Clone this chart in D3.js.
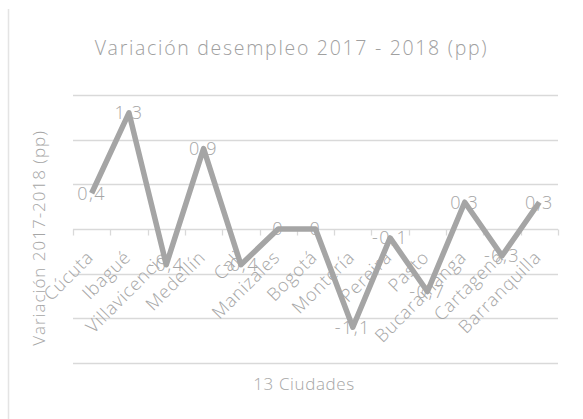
<!DOCTYPE html>
<html>
  <head>
    <meta charset="utf-8">
    <title>Variación desempleo</title>
    <script src="https://d3js.org/d3.v7.min.js"></script>
    <style>
      body { margin: 0; background: #fff; }
      svg { display: block; font-family: "Open Sans", sans-serif; font-weight: 300; }
    </style>
  </head>
  <body>
    <div id="chart"></div>
  </body>
</html>
<script>
  const width = 583, height = 419;

  // data
  const ciudades = ["Cúcuta", "Ibagué", "Villavicencio", "Medellín", "Cali", "Manizales", "Bogotá",
    "Montería", "Pereira", "Pasto", "Bucaramanga", "Cartagena", "Barranquilla"];
  const variacion = [0.4, 1.3, -0.4, 0.9, -0.4, 0, 0, -1.1, -0.1, -0.7, 0.3, -0.3, 0.3];
  const gridValues = [1.5, 1, 0.5, 0, -0.5, -1, -1.5];

  const margin = {left: 73, right: 25, top: 95, bottom: 56};

  const svg = d3.select("#chart").append("svg")
    .attr("width", width)
    .attr("height", height);

  const x = d3.scaleBand()
    .domain(ciudades)
    .range([margin.left, width - margin.right]);

  const y = d3.scaleLinear()
    .domain([-1.5, 1.5])
    .range([height - margin.bottom, margin.top]);

  // chart border (only left edge shows)
  svg.append("line")
    .attr("x1", 8.5).attr("x2", 8.5)
    .attr("y1", 9).attr("y2", height)
    .attr("stroke", "#e4e4e4")
    .attr("stroke-width", 1.5);

  // gridlines
  svg.append("g").selectAll("line")
    .data(gridValues)
    .join("line")
      .attr("x1", margin.left)
      .attr("x2", width - margin.right)
      .attr("y1", d => Math.round(y(d)) + 0.5)
      .attr("y2", d => Math.round(y(d)) + 0.5)
      .attr("stroke", "#d9d9d9")
      .attr("stroke-width", 1.3);

  // category axis on zero
  const y0 = Math.round(y(0)) + 0.5;
  const ticks = ciudades.map(c => x(c)).concat([width - margin.right]);
  svg.append("g").selectAll("line")
    .data(ticks)
    .join("line")
      .attr("x1", d => Math.round(d) + 0.5)
      .attr("x2", d => Math.round(d) + 0.5)
      .attr("y1", y0)
      .attr("y2", y0 + 6)
      .attr("stroke", "#d9d9d9")
      .attr("stroke-width", 1.3);

  svg.append("g").selectAll("text")
    .data(ciudades)
    .join("text")
      .attr("transform", d => "translate(" + (x(d) + x.bandwidth() / 2 - 6) + "," + (y0 + 20) + ") rotate(-45)")
      .attr("text-anchor", "end")
      .attr("dy", "0.7em")
      .attr("fill", "#a6a6a6")
      .attr("font-size", 18)
      .attr("letter-spacing", 0.8)
      .text(d => d);

  // line
  const line = d3.line()
    .x((d, i) => x(ciudades[i]) + x.bandwidth() / 2)
    .y(d => y(d));

  svg.append("path")
    .datum(variacion)
    .attr("d", line)
    .attr("fill", "none")
    .attr("stroke", "#a5a5a5")
    .attr("stroke-width", 5.5)
    .attr("stroke-linejoin", "round");

  // data labels
  svg.append("g").selectAll("text")
    .data(variacion)
    .join("text")
      .attr("x", (d, i) => x(ciudades[i]) + x.bandwidth() / 2)
      .attr("y", d => y(d))
      .attr("dy", "0.35em")
      .attr("text-anchor", "middle")
      .attr("fill", "#a6a6a6")
      .attr("font-size", 18)
      .attr("letter-spacing", 1.5)
      .text(d => String(d).replace(".", ","));

  // titles
  svg.append("text")
    .attr("x", width / 2)
    .attr("y", 55)
    .attr("text-anchor", "middle")
    .attr("fill", "#a0a0a0")
    .attr("font-size", 19.5)
    .attr("letter-spacing", 1.7)
    .text("Variación desempleo 2017 - 2018 (pp)");

  svg.append("text")
    .attr("transform", "translate(45,238) rotate(-90)")
    .attr("text-anchor", "middle")
    .attr("fill", "#a6a6a6")
    .attr("font-size", 17)
    .attr("letter-spacing", 1)
    .text("Variación 2017-2018 (pp)");

  svg.append("text")
    .attr("x", 304)
    .attr("y", 390)
    .attr("text-anchor", "middle")
    .attr("fill", "#a6a6a6")
    .attr("font-size", 17)
    .attr("letter-spacing", 0.6)
    .text("13 Ciudades");
</script>
